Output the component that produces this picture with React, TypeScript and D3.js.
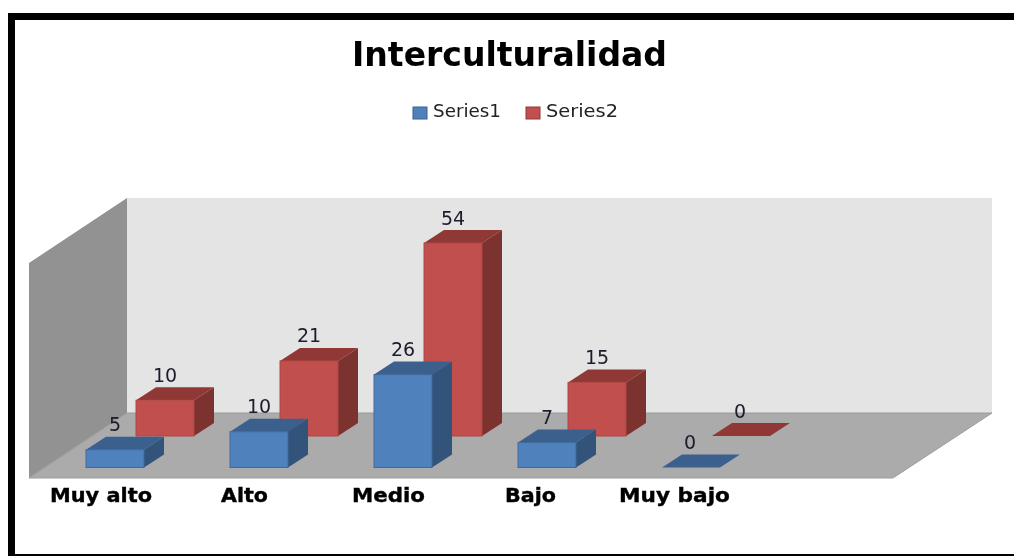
import React from "react";
import * as d3 from "d3";

const categories = ["Muy alto", "Alto", "Medio", "Bajo", "Muy bajo"];
const series1 = [5, 10, 26, 7, 0];
const series2 = [10, 21, 54, 15, 0];
const seriesNames = ["Series1", "Series2"];
const title = "Interculturalidad";

const W = 1014, H = 556;
const DX = 20, DY = 13;
const BAR_W = 58;
const x = d3.scaleBand<string>().domain(categories).range([62, 782]).paddingInner(0).paddingOuter(0);
const unit = d3.scaleLinear().domain([0, 54]).range([0, 193]);

const FONT = "'DejaVu Sans', sans-serif";
const pts = (a: [number, number][]) => d3.line()(a) + "Z";

const palette = [
  { front: "#4f81bd", top: "#3b618e", side: "#32527a", edge: "#3f6a9c" },
  { front: "#c0504d", top: "#8f3835", side: "#7c312f", edge: "#b04744" },
];

function Bar({ x0, base, v, c, label }: { x0: number; base: number; v: number; c: typeof palette[0]; label: number }) {
  const h = unit(v);
  const top = base - h;
  const x1 = x0 + BAR_W;
  return (
    <g>
      {v > 0 && <path d={pts([[x1, base], [x1 + DX, base - DY], [x1 + DX, top - DY], [x1, top]])} fill={c.side} />}
      <path d={pts([[x0, top], [x1, top], [x1 + DX, top - DY], [x0 + DX, top - DY]])} fill={c.top} />
      {v > 0 && <rect x={x0} y={top} width={BAR_W} height={h} fill={c.front} stroke={c.edge} strokeWidth={1} />}
      <text x={x0 + BAR_W / 2 + (v > 0 ? 0 : -1)} y={top - DY - 5.5} textAnchor="middle" fontFamily={FONT} fontSize={19} fill="#1a1a2a">{label}</text>
    </g>
  );
}

export default function App() {
  const floorFront = 478, floorBack = 413, wallTop = 198;
  const order = categories.map((c, i) => i);
  const labelX = [50, 221, 352, 505, 619];
  const labelW = [102, 47, 73, 51, 111];
  return (
    <svg width={W} height={H} style={{ position: "absolute", left: 0, top: 0, background: "#fff" }}>
      <defs>
        <filter id="soft" x="-5%" y="-5%" width="110%" height="110%"><feGaussianBlur stdDeviation="0.45" /></filter>
      </defs>
      <g filter="url(#soft)">
        <rect x={8} y={13} width={W - 8} height={7} fill="#000" />
        <rect x={8} y={13} width={7} height={H - 13} fill="#000" />
        <rect x={8} y={554} width={W - 8} height={2} fill="#000" />

        <text x={352} y={66} textLength={315} lengthAdjust="spacingAndGlyphs" fontFamily={FONT} fontWeight={700} fontSize={33} fill="#000">{title}</text>

        {seriesNames.map((s, i) => {
          const lx = [413, 526][i];
          return (
            <g key={s}>
              <rect x={lx} y={107} width={14} height={12} fill={palette[i].front} stroke={palette[i].top} />
              <text x={lx + 20} y={117} textLength={i === 0 ? 68 : 72} lengthAdjust="spacingAndGlyphs" fontFamily={FONT} fontSize={18.5} fill="#222">{s}</text>
            </g>
          );
        })}

        <path d={pts([[127, wallTop], [992, wallTop], [992, floorBack], [127, floorBack]])} fill="#e4e4e4" />
        <path d={pts([[29, 263], [127, wallTop], [127, floorBack], [29, floorFront]])} fill="#929292" />
        <path d={pts([[29, floorFront], [127, floorBack], [992, floorBack], [893, floorFront]])} fill="#ababab" stroke="#9c9c9c" strokeWidth={1} />

        {order.map((i) => (
          <Bar key={"r" + i} x0={x(categories[i])! + 74} base={436} v={series2[i]} c={palette[1]} label={series2[i]} />
        ))}
        {order.map((i) => (
          <Bar key={"b" + i} x0={x(categories[i])! + 24} base={467.5} v={series1[i]} c={palette[0]} label={series1[i]} />
        ))}

        {categories.map((c, i) => (
          <text key={c} x={labelX[i]} y={501.5} textLength={labelW[i]} lengthAdjust="spacingAndGlyphs" fontFamily={FONT} fontWeight={700} fontSize={20} stroke="#000" strokeWidth={0.4} fill="#000">{c}</text>
        ))}
      </g>
    </svg>
  );
}
